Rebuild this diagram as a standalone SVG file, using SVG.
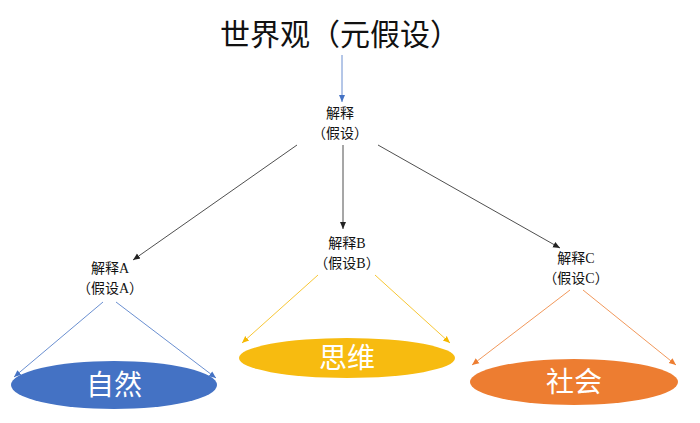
<svg xmlns="http://www.w3.org/2000/svg" width="700" height="423" viewBox="0 0 700 423">
<style>
text{font-family:"Liberation Serif","Noto Sans CJK SC",serif;text-anchor:middle;fill:#111}
.s{font-size:14px}
.big{font-size:28px;fill:#fff}
line{stroke-width:0.8}
</style>
<defs>
<marker id="ak" markerWidth="8" markerHeight="8" refX="7" refY="4" orient="auto" markerUnits="userSpaceOnUse"><path d="M0,1 L7,4 L0,7Z" fill="#222"/></marker>
<marker id="ab" markerWidth="8" markerHeight="8" refX="7" refY="4" orient="auto" markerUnits="userSpaceOnUse"><path d="M0,1 L7,4 L0,7Z" fill="#4472c4"/></marker>
<marker id="ay" markerWidth="8" markerHeight="8" refX="7" refY="4" orient="auto" markerUnits="userSpaceOnUse"><path d="M0,1 L7,4 L0,7Z" fill="#f5b800"/></marker>
<marker id="ao" markerWidth="8" markerHeight="8" refX="7" refY="4" orient="auto" markerUnits="userSpaceOnUse"><path d="M0,1 L7,4 L0,7Z" fill="#ed7d31"/></marker>
</defs>
<rect width="700" height="423" fill="#fff"/>
<g id="title"><text x="340" y="45" style="font-size:30px">世界观（元假设）</text></g>
<g id="root"><text class="s" x="340" y="118">解释</text><text class="s" x="340" y="138">（假设）</text></g>
<g id="a"><text class="s" x="110" y="273">解释A</text><text class="s" x="110" y="293">（假设A）</text></g>
<g id="b"><text class="s" x="347" y="248">解释B</text><text class="s" x="347" y="268">（假设B）</text></g>
<g id="c"><text class="s" x="576" y="263">解释C</text><text class="s" x="576" y="283">（假设C）</text></g>
<g id="nature"><ellipse cx="114" cy="385" rx="103" ry="24" fill="#4472c4"/><text class="big" x="114" y="395">自然</text></g>
<g id="think"><ellipse cx="347" cy="358" rx="108" ry="20" fill="#f7bb10"/><text class="big" x="347" y="368">思维</text></g>
<g id="society"><ellipse cx="574" cy="382" rx="104" ry="23" fill="#ed7d31"/><text class="big" x="574" y="392">社会</text></g>
<g id="connectors">
<line x1="342" y1="55" x2="342" y2="102" stroke="#4472c4" marker-end="url(#ab)"/>
<line x1="297" y1="145" x2="133" y2="260" stroke="#222" marker-end="url(#ak)"/>
<line x1="343" y1="145" x2="343" y2="229" stroke="#222" marker-end="url(#ak)"/>
<line x1="378" y1="145" x2="560" y2="248" stroke="#222" marker-end="url(#ak)"/>
<line x1="103" y1="302" x2="14" y2="377" stroke="#4472c4" marker-end="url(#ab)"/>
<line x1="116" y1="302" x2="216" y2="378" stroke="#4472c4" marker-end="url(#ab)"/>
<line x1="318" y1="275" x2="242" y2="343" stroke="#f5b800" marker-end="url(#ay)"/>
<line x1="375" y1="275" x2="450" y2="343" stroke="#f5b800" marker-end="url(#ay)"/>
<line x1="570" y1="290" x2="472" y2="365" stroke="#ed7d31" marker-end="url(#ao)"/>
<line x1="583" y1="290" x2="676" y2="365" stroke="#ed7d31" marker-end="url(#ao)"/>
</g>
</svg>
